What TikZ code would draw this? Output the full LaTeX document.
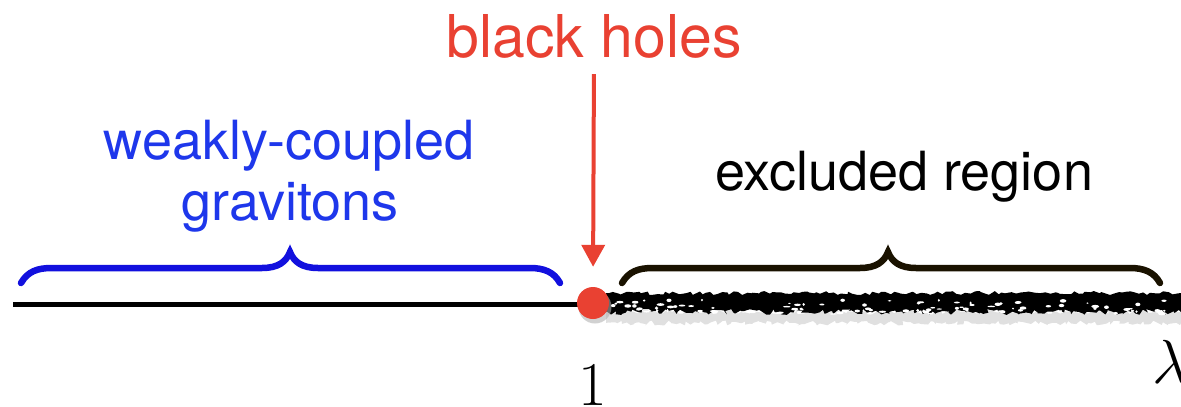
\documentclass[tikz,border=0pt]{standalone}
\usepackage{fontspec}
\setmainfont{TeX Gyre Heros}
\usetikzlibrary{arrows.meta,decorations.pathmorphing}
\definecolor{bhred}{RGB}{233,65,50}
\definecolor{gblue}{RGB}{30,55,235}
\definecolor{bblue}{RGB}{18,16,222}
\definecolor{bbrown}{RGB}{26,18,0}
\tikzset{
  lbl/.style={inner sep=0pt, anchor=base, font=\fontsize{54}{62}\selectfont},
  bracepath/.style={line width=6.5pt, line cap=round},
  axis/.style={line width=5pt},
  redarrow/.style={draw=bhred, line width=4pt, -{Triangle[width=23pt,length=22pt]}},
  mathlbl/.style={inner sep=0pt, anchor=base, font=\Huge, scale=2.5}
}
\begin{document}
\begin{tikzpicture}[x=1pt,y=-1pt]
\useasboundingbox (0,0) rectangle (1181,407);
% axis left
\coordinate (axl) at (13,304);
\coordinate (axr) at (593,304);
\draw[axis] (axl) -- (axr);
% rough excluded band
\pgfmathsetseed{7}
\fill[black!12] (606,312) decorate[decoration={random steps,segment length=3pt,amplitude=2pt}]{-- (1181,312)} -- (1181,323) decorate[decoration={random steps,segment length=3pt,amplitude=2.5pt}]{-- (606,323)} -- cycle;
\fill[black] (606,293) decorate[decoration={random steps,segment length=4pt,amplitude=2pt}]{-- (1181,293)} -- (1181,312) decorate[decoration={random steps,segment length=3pt,amplitude=3pt}]{-- (606,312)} -- cycle;
\pgfmathsetseed{3}
\foreach \i in {0,...,90}{
  \pgfmathsetmacro{\xx}{610+rnd*570}
  \pgfmathsetmacro{\yy}{300+rnd*14}
  \fill[white] (\xx,\yy) ellipse ({1+rnd*3} and {0.6+rnd*1.2});
}
% dot
\fill[black!30, opacity=0.6] (595,307) circle (16.5);
\node[circle, fill=bhred, minimum size=32pt, inner sep=0pt] (dot) at (593,303) {};
% braces
\draw[bracepath, draw=bblue] (21,283) .. controls (28,271) and (38,268) .. (52,268) -- (262,268) .. controls (278,268) and (286,262) .. (290,252) .. controls (294,262) and (302,268) .. (318,268) -- (530,268) .. controls (544,268) and (554,272) .. (560,283);
\draw[bracepath, draw=bbrown] (622,283) .. controls (629,271) and (639,268) .. (653,268) -- (860,268) .. controls (876,268) and (884,262) .. (888,252) .. controls (892,262) and (900,268) .. (916,268) -- (1130,268) .. controls (1144,268) and (1154,272) .. (1160,283);
% labels
\node[lbl, text=gblue] (wc) at (289,159) {weakly-coupled};
\node[lbl, text=gblue] (gr) at (290,220) {gravitons};
\node[lbl, text=black] (ex) at (904,190) {excluded region};
\node[inner sep=0pt, anchor=base, font=\fontsize{59}{68}\selectfont, text=bhred] (bh) at (594,57) {black holes};
\draw[redarrow, shorten <=16pt, shorten >=20pt] (bh.south) -- (dot.north);
\node[mathlbl] (one) at (593,405) {$1$};
\node[mathlbl, anchor=base west] (lam) at (1152,383) {$\lambda$};
\end{tikzpicture}
\end{document}
